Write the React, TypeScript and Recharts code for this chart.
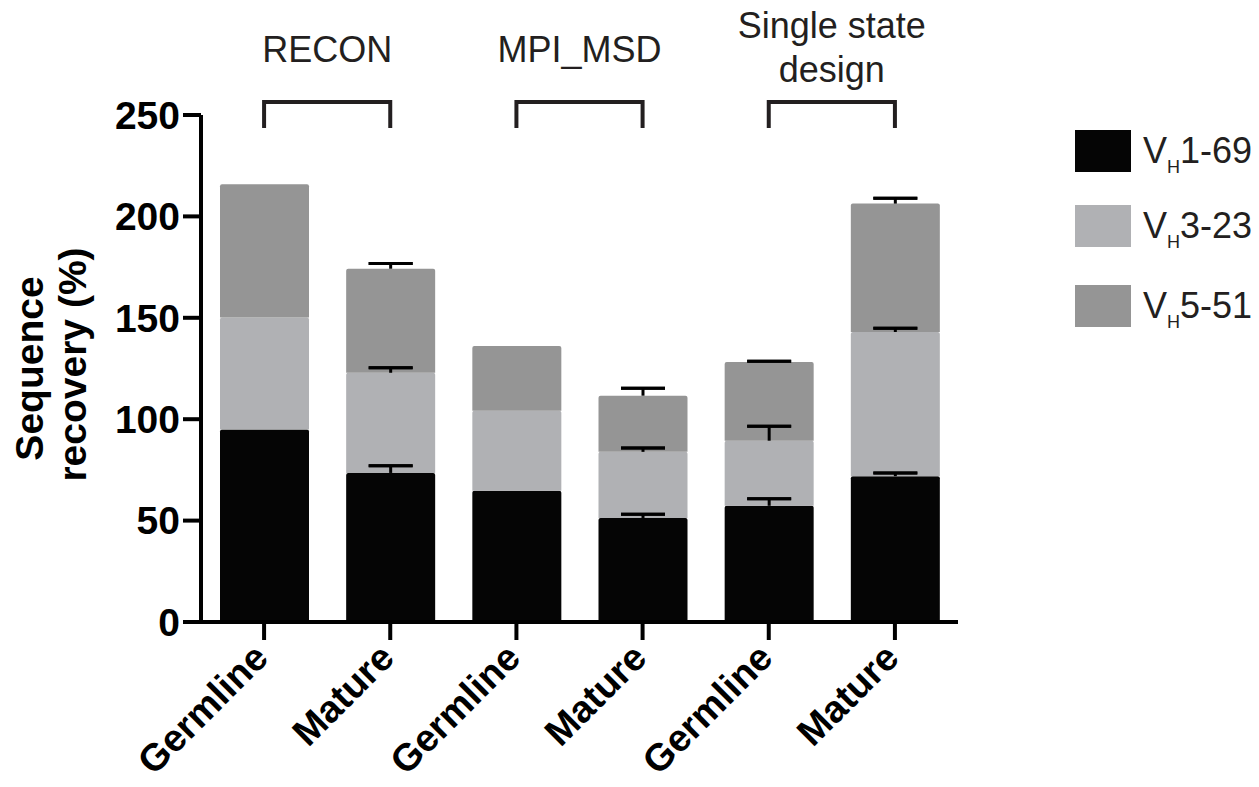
import React from 'react';
import { BarChart, Bar, XAxis, YAxis, ErrorBar, ReferenceLine, Legend } from 'recharts';

const FONT = '"Liberation Sans", Arial, Helvetica, sans-serif';

// ---- data ----
const ids = ['RECON-G', 'RECON-M', 'MPI-G', 'MPI-M', 'SSD-G', 'SSD-M'];
const categories = ['Germline', 'Mature', 'Germline', 'Mature', 'Germline', 'Mature'];
const vh169 = [94.9, 73.5, 64.7, 51.3, 57.3, 71.9];
const vh323 = [55.3, 49.4, 39.5, 32.6, 32.1, 71.1];
const vh551 = [65.6, 51.3, 31.9, 27.7, 38.8, 63.3];
const err169: (number | null)[] = [null, 3.5, null, 1.8, 3.5, 1.6];
const err323: (number | null)[] = [null, 2.5, null, 1.9, 7.1, 1.9];
const err551: (number | null)[] = [null, 2.6, null, 3.7, 0.4, 2.6];
const seriesNames = ['1-69', '3-23', '5-51'];
const seriesColors = ['#050505', '#b0b1b4', '#959595'];
const groupLabels = [['RECON'], ['MPI_MSD'], ['Single state', 'design']];
const groupSpans = [['RECON-G', 'RECON-M'], ['MPI-G', 'MPI-M'], ['SSD-G', 'SSD-M']];
const yTicks = [0, 50, 100, 150, 200, 250];

const BRACKET_TOP = 256.4;
const BRACKET_LEG = 243.6;

// error bars are all attached to the topmost stacked series, expressed relative to its top
const table = ids.map((id, i) => {
  const t1 = vh169[i];
  const t2 = t1 + vh323[i];
  const t3 = t2 + vh551[i];
  const cap = (top: number, e: number | null) => (e == null ? null : [t3 - top - e, top + e - t3]);
  const stem = (top: number, e: number | null) => (e == null ? null : [t3 - top, top + e - t3]);
  return {
    id,
    a: vh169[i],
    b: vh323[i],
    c: vh551[i],
    cap1: cap(t1, err169[i]),
    stem1: stem(t1, err169[i]),
    cap2: cap(t2, err323[i]),
    stem2: stem(t2, err323[i]),
    cap3: cap(t3, err551[i]),
    stem3: stem(t3, err551[i]),
  };
});

const labelById: Record<string, string> = {};
ids.forEach((id, i) => (labelById[id] = categories[i]));

const XTick = (props: any) => {
  const { x, y, payload } = props;
  const px = x + 6;
  const py = y + 20;
  return (
    <text
      x={px}
      y={py}
      transform={`rotate(-45, ${px}, ${py})`}
      textAnchor="end"
      fontSize={38}
      fontWeight="bold"
      fontFamily={FONT}
      fill="#000"
    >
      {labelById[payload.value]}
    </text>
  );
};

const YTitle = (props: any) => {
  const vb = props.viewBox || { x: 0, y: 115, width: 201, height: 507 };
  const cy = vb.y + vb.height / 2;
  return (
    <g fontFamily={FONT} fontWeight="bold" fontSize={39} fill="#000">
      <text x={43} y={cy} transform={`rotate(-90, 43, ${cy})`} textAnchor="middle">
        Sequence
      </text>
      <text x={86} y={cy - 4} transform={`rotate(-90, 86, ${cy - 4})`} textAnchor="middle">
        recovery (%)
      </text>
    </g>
  );
};

const makeGroupLabel = (lines: string[]) => (props: any) => {
  const vb = props.viewBox || {};
  const cx = (vb.x || 0) + (vb.width || 0) / 2;
  const top = vb.y || 0;
  const baselines = lines.length === 1 ? [top - 40] : [top - 64, top - 20];
  return (
    <g>
      {lines.map((l, k) => (
        <text
          key={k}
          x={cx}
          y={baselines[k]}
          textAnchor="middle"
          fontSize={36}
          fontFamily={FONT}
          fill="#231f20"
        >
          {l}
        </text>
      ))}
    </g>
  );
};

const LegendContent = () => (
  <svg width={190} height={240} style={{ display: 'block' }}>
    {seriesNames.map((n, i) => {
      const cy = [26, 101, 181][i];
      return (
        <g key={n}>
          <rect x={5} y={cy - 21} width={56} height={42} fill={seriesColors[i]} />
          <text x={73} y={cy + 12} fontSize={36} fontFamily={FONT} fill="#231f20">
            V
            <tspan fontSize={18} dy={10}>
              H
            </tspan>
            <tspan fontSize={36} dy={-10}>
              {n}
            </tspan>
          </text>
        </g>
      );
    })}
  </svg>
);

export default function App() {
  return (
    <div style={{ position: 'absolute', left: 0, top: 0, width: 1259, height: 787, background: '#fff' }}>
      <BarChart
        width={1259}
        height={787}
        data={table}
        margin={{ top: 115, right: 301, bottom: 0, left: 0 }}
        barSize={89}
      >
        <XAxis
          dataKey="id"
          height={165}
          tick={<XTick />}
          tickSize={18}
          tickMargin={0}
          interval={0}
          axisLine={{ stroke: '#000', strokeWidth: 4 }}
          tickLine={{ stroke: '#000', strokeWidth: 4 }}
        />
        <YAxis
          width={201}
          domain={[0, 250]}
          allowDataOverflow
          ticks={yTicks}
          tickSize={18}
          tickMargin={3}
          axisLine={{ stroke: '#000', strokeWidth: 4 }}
          tickLine={{ stroke: '#000', strokeWidth: 4 }}
          tick={{ fontSize: 39, fontWeight: 'bold', fontFamily: FONT, fill: '#000' }}
          label={<YTitle />}
        />
        <Legend
          layout="horizontal"
          verticalAlign="middle"
          align="center"
          content={<LegendContent />}
          wrapperStyle={{ position: 'absolute', left: 1070, top: 125, width: 190, height: 240 }}
        />
        <Bar dataKey="a" stackId="s" fill={seriesColors[0]} radius={[2, 2, 0, 0]} isAnimationActive={false} />
        <Bar dataKey="b" stackId="s" fill={seriesColors[1]} radius={[2, 2, 0, 0]} isAnimationActive={false} />
        <Bar dataKey="c" stackId="s" fill={seriesColors[2]} radius={[2, 2, 0, 0]} isAnimationActive={false}>
          <ErrorBar dataKey="stem1" width={0} stroke="#000" strokeWidth={3} direction="y" isAnimationActive={false} />
          <ErrorBar dataKey="cap1" width={22} stroke="#000" strokeWidth={3} direction="y" isAnimationActive={false} />
          <ErrorBar dataKey="stem2" width={0} stroke="#000" strokeWidth={3} direction="y" isAnimationActive={false} />
          <ErrorBar dataKey="cap2" width={22} stroke="#000" strokeWidth={3} direction="y" isAnimationActive={false} />
          <ErrorBar dataKey="stem3" width={0} stroke="#000" strokeWidth={3} direction="y" isAnimationActive={false} />
          <ErrorBar dataKey="cap3" width={22} stroke="#000" strokeWidth={3} direction="y" isAnimationActive={false} />
        </Bar>
        {groupSpans.map(([a, b], g) => (
          <ReferenceLine
            key={`top-${g}`}
            segment={[
              { x: a, y: BRACKET_TOP },
              { x: b, y: BRACKET_TOP },
            ]}
            ifOverflow="visible"
            stroke="#231f20"
            strokeWidth={4}
            label={makeGroupLabel(groupLabels[g])}
          />
        ))}
        {groupSpans.flatMap(([a, b], g) =>
          [a, b].map((id) => (
            <ReferenceLine
              key={`leg-${g}-${id}`}
              segment={[
                { x: id, y: BRACKET_TOP + 1 },
                { x: id, y: BRACKET_LEG },
              ]}
              ifOverflow="visible"
              stroke="#231f20"
              strokeWidth={4}
            />
          ))
        )}
      </BarChart>
    </div>
  );
}
